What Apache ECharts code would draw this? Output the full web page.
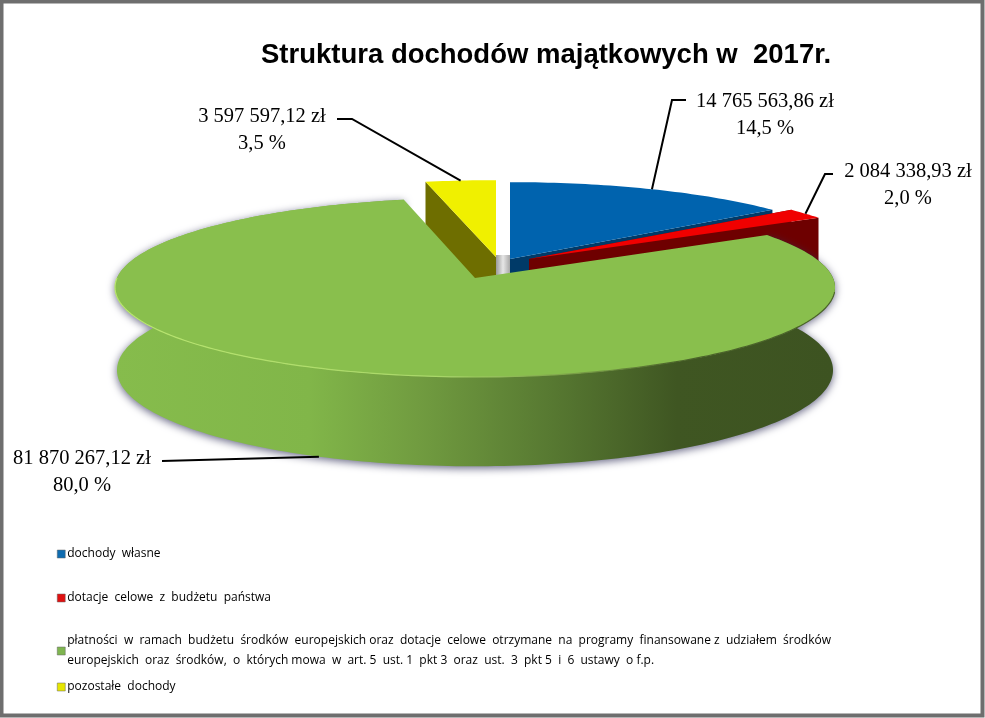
<!DOCTYPE html>
<html><head><meta charset="utf-8">
<style>html,body{margin:0;padding:0;background:#fff}#c{width:985px;height:718px}</style>
<script src="https://cdn.jsdelivr.net/npm/echarts@6/dist/echarts.min.js"></script>
</head><body><div id="c"></div>
<script>
// ---- data ----
const categories = [
  'dochody  własne',
  'dotacje  celowe  z  budżetu  państwa',
  'płatności  w  ramach  budżetu  środków  europejskich oraz  dotacje  celowe  otrzymane  na  programy  finansowane z  udziałem  środków\neuropejskich  oraz  środków,  o  których mowa  w  art. 5  ust. 1  pkt 3  oraz  ust.  3  pkt 5  i  6  ustawy  o f.p.',
  'pozostałe  dochody'
];
const amounts = [14765563.86, 2084338.93, 81870267.12, 3597597.12];
const amountLabels = ['14 765 563,86 zł', '2 084 338,93 zł', '81 870 267,12 zł', '3 597 597,12 zł'];
const percentLabels = ['14,5 %', '2,0 %', '80,0 %', '3,5 %'];
const titleText = 'Struktura dochodów majątkowych w  2017r.';

// ---- styling and layout ----
const topColors = ['#0063AE', '#F00000', '#89BF4D', '#F0F000'];
const wallColors = ['#003A68', '#6E0000', '#3F5622', '#6E6E00'];
const legendColors = ['#0F6CB0', '#E01010', '#7FB550', '#E6E600'];
const centers = [[510, 259], [529, 259], [475, 278], [496, 257]];
const radii = [[355, 85], [355, 85], [358, 88.5], [355, 85]];
const K = 0.106, DEPTH = 101;           // perspective and drop of the lower face
const legendTops = [544, 588, 631, 677];
const labelPos = [
  {x: 765, y: 101, line: [[686, 100], [672, 100]]},
  {x: 908, y: 171, line: [[833, 174], [825, 174]]},
  {x: 82, y: 458, line: [[162, 461]]},
  {x: 262, y: 116, line: [[337, 119], [352, 119]]}
];
const drawOrder = [0, 1, 3, 2];

const total = amounts.reduce((a, b) => a + b, 0);
const starts = [];
amounts.reduce((acc, v, i) => { starts[i] = acc; return acc + v / total * 2 * Math.PI; }, 0);
const ends = starts.map((s, i) => s + amounts[i] / total * 2 * Math.PI);

function proj(i, th, low) {
  const [cx, cy] = centers[i], [a, b] = radii[i];
  const s = Math.sin(th), c = Math.cos(th), d = 1 + K * c;
  if (!low) return [cx + a * s / d, cy - b * c / d];
  return [cx + (a - 2) * s / d, cy + 82 - (b + 6.5) * c / d];
}
function arc(i, t0, t1, low) {
  const n = Math.max(4, Math.ceil(Math.abs(t1 - t0) / 0.02)), pts = [];
  for (let k = 0; k <= n; k++) pts.push(proj(i, t0 + (t1 - t0) * k / n, low));
  return pts;
}
const greenWallFill = {type: 'linear', x: 0, y: 0, x2: 1, y2: 0, colorStops: [
  {offset: 0, color: '#86BC4C'}, {offset: .27, color: '#81B649'},
  {offset: .42, color: '#719C40'}, {offset: .6, color: '#587A32'},
  {offset: .78, color: '#3F5622'}, {offset: 1, color: '#3D5321'}]};
const greenRim = {type: 'linear', x: 0, y: 0, x2: 1, y2: 0, colorStops: [
  {offset: 0, color: '#B9E66F'}, {offset: .45, color: '#A9D768'},
  {offset: .62, color: '#7FA64A'}, {offset: .78, color: '#4B6429'}, {offset: 1, color: '#4B6429'}]};

function renderSlice(i) {
  return function () {
    const t0 = starts[i], t1 = ends[i], c = centers[i];
    const kids = [];
    const topFace = [c].concat(arc(i, t0, t1, false));
    if (i === 2) {
      const upper = arc(i, t0, t1, false), lower = arc(i, t0, t1, true).reverse();
      kids.push({type: 'polygon', shape: {points: upper.concat(lower)},
        style: {fill: greenWallFill, shadowBlur: 9, shadowColor: 'rgba(50,50,90,.75)', shadowOffsetX: 0, shadowOffsetY: 2}});
    } else {
      // radial walls of the far slices
      [t0, t1].forEach(t => {
        const e = proj(i, t, false);
        kids.push({type: 'polygon', shape: {points: [c, e, [e[0], e[1] + 90], [c[0], c[1] + 90]]},
          style: {fill: wallColors[i]}});
      });
      if (i === 0) kids.unshift({type: 'rect', shape: {x: c[0] - 14, y: c[1] - 4, width: 14, height: 20},
        style: {fill: {type: 'linear', x: 0, y: 0, x2: 1, y2: 0, colorStops: [
          {offset: 0, color: '#9A9A9A'}, {offset: .5, color: '#E6E6E6'}, {offset: 1, color: '#A8A8A8'}]}}});
    }
    kids.push({type: 'polygon', shape: {points: topFace}, style: {fill: topColors[i]}});
    if (i === 2) kids.push({type: 'polyline', shape: {points: arc(i, Math.PI * 0.55, Math.PI * 1.5, false)},
      style: {fill: 'none', stroke: greenRim, lineWidth: 1.2}});
    // leader line, anchored at the middle of the slice's arc
    const mid = (t0 + t1) / 2;
    const anchor = proj(i, mid, i === 2);
    kids.push({type: 'polyline', z2: 50, shape: {points: labelPos[i].line.concat([anchor])},
      style: {fill: 'none', stroke: '#000', lineWidth: 2}});
    return {type: 'group', children: kids};
  };
}

const FONT_SERIF = '"Liberation Serif","Times New Roman",serif';
const chart = echarts.init(document.getElementById('c'), null, {renderer: 'canvas'});
chart.setOption({
  animation: false,
  backgroundColor: '#fff',
  title: {text: titleText, left: 261, top: 41, padding: 0, itemGap: 0,
    textStyle: {fontFamily: '"Liberation Sans",Arial,sans-serif', fontWeight: 'bold', fontSize: 27.5, color: '#000'}},
  legend: categories.map((name, i) => ({
    data: [{name, itemStyle: {color: legendColors[i], borderColor: '#666', borderWidth: .5}}],
    left: 57, top: legendTops[i], padding: 0, orient: 'vertical',
    icon: 'rect', itemWidth: 8, itemHeight: 8, itemGap: 0, selectedMode: false,
    textStyle: {fontFamily: '"Open Sans",sans-serif', fontSize: 12, color: '#000', lineHeight: 20, padding: [0, 0, 0, -3]}
  })),
  graphic: [
    {type: 'rect', z: -10, silent: true, shape: {x: 1.5, y: 1.5, width: 981, height: 714},
      style: {fill: 'none', stroke: '#6E6E6E', lineWidth: 4}}
  ].concat(amountLabels.map((t, i) => ({
    type: 'text', z: 100, silent: true, x: labelPos[i].x, y: labelPos[i].y,
    style: {text: t + '\n' + percentLabels[i], fill: '#000', align: 'center', verticalAlign: 'middle',
      font: '20.5px ' + FONT_SERIF, lineHeight: 27, y: 14}
  }))),
  series: drawOrder.map((i, order) => ({
    type: 'custom', name: categories[i], coordinateSystem: 'none', z: 2 + order,
    itemStyle: {color: legendColors[i]},
    data: [amounts[i]], renderItem: renderSlice(i), silent: true
  }))
});
</script></body></html>
